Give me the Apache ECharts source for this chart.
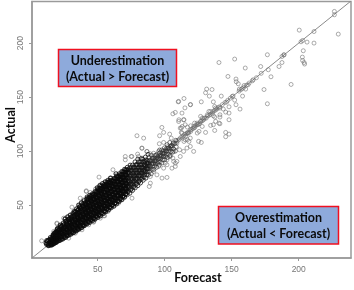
<!DOCTYPE html>
<html><head><meta charset="utf-8">
<style>html,body{margin:0;padding:0;background:#fff}#c{width:354px;height:290px}</style>
<script src="https://cdn.jsdelivr.net/npm/echarts@6/dist/echarts.min.js"></script>
</head><body><div id="c"></div>
<script>
const xTicks=[50,100,150,200];
const yTicks=[50,100,150,200];
const lineEnds=[[1,1],[239,239]];
const farPoints=[[226.6,229.3],[226.6,226.2],[200.4,212],[211.4,210.7],[229.5,208.3],[202.9,202.4],[201.7,201.2],[206.2,200.9],[211.4,200],[203.4,192.9],[176.6,189.2],[189,189.2],[187.5,187.6],[152.2,185.2],[202.7,187],[202.9,183.9],[204,182],[204.4,180.6],[140.5,182],[187.5,182],[171.6,178.3],[185.3,178.3],[160.1,176.9],[177.3,175.3],[179.3,168.8],[147.2,169.1],[168.4,167.9],[153.2,166.7],[153.4,164.2],[165.4,165.1],[154.9,162.3],[194.3,161.7],[159.2,160.7],[162.2,161.4],[155.7,157.4],[157.9,158],[160.4,157.4],[131.3,157.4],[135.3,157],[130.5,154],[174.1,157],[133.3,150.9],[142.2,150.9],[158.1,150.9],[152.2,147.2],[136.3,145.6],[127.3,145.6],[114.4,148.7],[110.1,145.6],[119.3,143.1],[115.1,140],[153.2,142.9],[176.6,143.8],[156.2,138.9],[148,141],[146.2,145.4],[150.4,150.6]];
const midPoints=[[137.3,141.3],[138,139.8],[134.3,136.7],[133,136.7],[141.2,139.8],[143.7,138.9],[145.5,136.1],[148,135.2],[141.2,133.6],[141.2,131.5],[137.3,131.5],[148,129],[140.5,125.9],[141.2,125.3],[138,127.5],[137.3,119.1],[134.3,123.8],[136.3,124.4],[130.5,117.3],[145.5,117.3],[148,115.7],[145.5,113.3],[127.3,108],[116.9,110.5],[114.4,129],[110.6,129],[126.8,132.1],[128,130.5],[126.8,127.5],[122.3,125.9],[119.4,123.4],[116.9,122.2],[113.1,122.8],[112.4,121.3],[121.8,121.3],[125.6,118.2],[124.3,116.7],[119.4,118.2],[116.9,116.7],[112.4,117.3],[115.6,113.6],[118.1,108.9],[114.4,108.9],[128,122.8],[124.8,124.4],[131.8,133.6],[129.3,130.5],[136.3,132.7]];
const linePoints=[[189,189],[172,172],[166,166],[163,163],[161,161],[159,159],[157,157],[155.5,155.5],[151,151],[149,149],[147,147],[145,145],[143,143],[141,141],[140,140.5],[139,139],[137,137.5],[135.5,135],[134,134],[132,132.5],[131,130.5],[129,129],[127,127.5],[126,125.5],[124,124.5],[122.5,122],[121,121],[119,119.5],[118,117.5],[116,116],[115,115.5],[113,113],[111,111],[109,109],[138,138],[136,136.5],[133,133],[130,130.5],[128,128],[125,125],[123,123.5],[120,120],[117,117],[114,114],[112,112.5],[110,110]];
const edgePoints=[[8.2,16.9],[30.8,48.1],[51,75.9],[41.5,62.6],[37,56.4],[39.5,54.9],[24.6,37.9],[19.6,32.7],[55.2,40],[47,34.2],[57.7,44.1],[61.4,82.7],[70.6,95],[75,95],[83,102.7],[86.8,99.6],[98,75],[101.7,75.6],[88.5,67.2],[75.6,56.4],[65.6,51.8],[89.3,70.3],[108,88.8],[70.6,91.9],[64.4,78],[59.4,75],[54.4,68.8],[45.7,59.5],[91.8,98],[94.2,96.5],[96.7,93.5],[99.2,96.5],[101.7,91.9],[104.2,95],[106.7,90.4],[90.5,91.9],[93,88.8],[88,87.3],[85.5,90.4],[83,93.5],[80.5,95],[95.5,85.7],[99.2,84.2],[101.7,87.3],[105.4,84.2],[91.8,81.1],[94.2,78],[89.3,76.5],[86.8,79.6],[84.3,84.2]];
const fringePoints=[[79.3,114.2],[84.3,112],[97.9,121.9],[99.2,117.3],[96.2,114.2],[103.7,115.7],[99.2,108],[96,106.8],[104.9,112],[106.6,108],[102.4,104.3],[83,102.7],[75.5,95],[79.8,97.2],[86.7,99.7],[89.2,97.5],[95.4,99.7],[106.6,99.7],[111.1,101.2],[114.1,99.7],[116.6,102.8],[119.1,104.3],[121.6,99.7],[125.3,109],[115.3,110.5],[112.9,116.6],[117.8,116.6],[111.6,121.3],[115.3,124.4],[110.4,127.4],[114.1,129],[106.1,134.5],[107.9,135.8],[112.9,135.2],[110.4,146],[119.1,142.9],[121.6,122.8],[124.1,125.9],[109.1,107.4],[106.1,93.5],[109.1,90.4],[103.7,95],[100.4,88.9],[99.2,95],[111.6,95],[107.9,85.8],[119.1,112],[41.5,63.2],[44.5,61.7],[48.3,64.8],[52,68.8],[25.9,37.9],[19.6,33.3],[22.1,30.2],[17.2,25.6],[47,34.8],[54.5,40.1],[38.3,27.1],[33.3,24],[28.4,19.4],[39.5,30.8],[50.7,44.1],[55.7,47.2],[43.3,31.7],[52,37.9]];
const corePoints=[
[11.5,15],[12,13.5],[12.5,16.5],[13,14],[13.2,12.5],[13.5,17.5],[12,17],[14,13],[14.3,15.5],[14.5,18],[14.8,20],[15,14],[15.2,16.5],[15.4,12.8],[15.5,19],
[16,13.5],[16.2,15.8],[16.3,18],[16.5,20.5],[16.8,22.5],[17,14.5],[17.2,17],[17.3,19.2],[17.5,21.3],[17.7,24],[18,15],[18.2,17.4],[18.4,19.6],[18.5,22],[18.6,24.5],[19,16],[19.2,18.5],[19.4,20.8],[19.5,23],[19.7,25.5],[19.8,27.5],
[20,16.5],[20.6,19],[19.8,21.5],[20.4,24],[20.9,26.5],[20.2,28.5],[22,17.5],[22.7,20],[21.6,22.3],[22.3,25],[21.8,27.4],[22.5,29.8],[22.1,31.5],
[24,18.6],[24.6,21],[23.6,23.6],[24.3,26.2],[24.8,28.7],[23.8,31],[24.4,33.4],[26,20],[26.7,22.5],[25.5,25],[26.3,27.7],[25.8,30],[26.6,32.6],[26.1,35],[25.7,37],
[28,22],[28.6,24.4],[27.6,27],[28.3,29.5],[27.8,32],[28.7,34.3],[28.2,36.8],[27.7,39],[30,23],[30.7,25.6],[29.5,28.2],[30.3,30.8],[29.8,33.2],[30.6,35.8],[30.1,38.3],[29.6,40.7],
[32,24.5],[32.6,27],[31.5,29.6],[32.3,32.2],[31.8,34.6],[32.7,37.2],[32.2,39.7],[31.6,42.2],[32.4,44],[34,26],[34.7,28.6],[33.6,31.2],[34.4,33.8],[33.8,36.3],[34.6,38.9],[34.1,41.5],[33.6,44],[34.3,46.5],
[36,27.8],[36.6,30.3],[35.6,32.9],[36.3,35.4],[35.8,38],[36.7,40.5],[36.2,43],[35.6,45.7],[36.4,48.2],[35.9,50],[38,29],[38.7,31.7],[37.5,34.3],[38.3,36.8],[37.8,39.4],[38.6,42],[38.1,44.6],[37.6,47],[38.4,49.6],[37.9,52],
[40,31],[40.6,33.5],[39.6,36],[40.3,38.6],[39.8,41.2],[40.7,43.8],[40.2,46.3],[39.6,48.9],[40.4,51.4],[39.9,54],[42,32.5],[42.7,35],[41.5,37.6],[42.3,40.2],[41.8,42.8],[42.6,45.3],[42.1,47.9],[41.6,50.5],[42.4,53],[41.9,55.6],[42.2,57.5],
[44,34],[44.6,36.5],[43.6,39.2],[44.3,41.7],[43.8,44.3],[44.7,46.9],[44.2,49.4],[43.6,52],[44.4,54.6],[43.9,57],[44.1,59],[46,35.5],[46.7,38],[45.5,40.7],[46.3,43.3],[45.8,45.8],[46.6,48.4],[46.1,51],[45.6,53.6],[46.4,56],[45.9,58.7],[46.2,60.5],
[48,37],[48.6,39.6],[47.6,42.2],[48.3,44.7],[47.8,47.3],[48.7,49.9],[48.2,52.5],[47.6,55],[48.4,57.6],[47.9,60.2],[48.1,62.4],[50,38.6],[50.7,41.2],[49.5,43.7],[50.3,46.3],[49.8,48.9],[50.6,51.4],[50.1,54],[49.6,56.6],[50.4,59.2],[49.9,61.7],[50.2,64],[49.7,66],
[52,40],[52.6,42.7],[51.6,45.2],[52.3,47.8],[51.8,50.4],[52.7,53],[52.2,55.5],[51.6,58.1],[52.4,60.7],[51.9,63.2],[52.1,65.6],[51.7,68],[54,42],[54.7,44.3],[53.5,46.9],[54.3,49.4],[53.8,52],[54.6,54.6],[54.1,57.1],[53.6,59.7],[54.4,62.3],[53.9,64.8],[54.2,67],[53.7,70],
[56,44],[56.6,46.5],[55.6,49],[56.3,51.6],[55.8,54.2],[56.7,56.8],[56.2,59.3],[55.6,61.9],[56.4,64.5],[55.9,67],[56.1,69],[55.7,71.5],[58,45.5],[58.7,48],[57.5,50.6],[58.3,53.2],[57.8,55.7],[58.6,58.3],[58.1,60.9],[57.6,63.5],[58.4,66],[57.9,68.6],[58.2,71],[57.7,73],
[60,47.5],[60.6,50],[59.6,52.6],[60.3,55.2],[59.8,57.7],[60.7,60.3],[60.2,62.9],[59.6,65.5],[60.4,68],[59.9,70.6],[60.1,73],[59.7,75],[62,49],[62.7,51.6],[61.5,54.2],[62.3,56.8],[61.8,59.3],[62.6,61.9],[62.1,64.5],[61.6,67],[62.4,69.6],[61.9,72.2],[62.2,74.6],
[64,51],[64.6,53.6],[63.6,56.1],[64.3,58.7],[63.8,61.3],[64.7,63.9],[64.2,66.4],[63.6,69],[64.4,71.6],[63.9,74.2],[64.1,76.5],[63.7,79],[66,53.5],[66.7,56],[65.5,58.6],[66.3,61.2],[65.8,63.8],[66.6,66.3],[66.1,68.9],[65.6,71.5],[66.4,74],[65.9,76.6],[66.2,79],
[68,55],[68.6,57.6],[67.6,60.2],[68.3,62.8],[67.8,65.3],[68.7,67.9],[68.2,70.5],[67.6,73],[68.4,75.6],[67.9,78.2],[68.1,81],[70,57.4],[70.7,60],[69.5,62.6],[70.3,65.2],[69.8,67.7],[70.6,70.3],[70.1,72.9],[69.6,75.5],[70.4,78],[69.9,80.6],[70.2,83],
[72,59.5],[72.6,62],[71.6,64.6],[72.3,67.2],[71.8,69.8],[72.7,72.3],[72.2,74.9],[71.6,77.5],[72.4,80],[71.9,82.6],[72.1,85],[74,61],[74.7,64],[73.5,66.6],[74.3,69.2],[73.8,71.8],[74.6,74.3],[74.1,76.9],[73.6,79.5],[74.4,82],[73.9,84.6],[74.2,87],
[76,63.5],[76.6,66.5],[75.6,69],[76.3,71.6],[75.8,74.2],[76.7,76.7],[76.2,79.3],[75.6,81.9],[76.4,84.5],[75.9,87],[78,66],[78.7,69],[77.5,72],[78.3,74.4],[77.8,77],[78.6,79.6],[78.1,82.1],[77.6,84.7],[78.4,87.3],[77.9,90],
[80,68],[80.6,71.5],[79.6,74.5],[80.3,77],[79.8,79.6],[80.7,82.2],[80.2,84.8],[79.6,87.3],[80.4,90],[79.9,92.5],[82,70.5],[82.7,74],[81.5,77],[82.3,79.5],[81.8,82],[82.6,84.6],[82.1,87.2],[81.6,89.8],[82.4,93],
[84,73],[84.6,76],[83.6,79.5],[84.3,82],[83.8,84.6],[84.7,87.2],[84.2,89.7],[83.6,92.5],[86,75],[86.7,78],[85.5,81],[86.3,84],[85.8,86.6],[86.6,89.2],[86.1,91.8],[85.6,94.5],
[88,78],[88.6,81],[87.6,83.5],[88.3,86],[87.8,88.7],[88.7,91.3],[88.2,94],[87.6,97],[90,79],[90.7,83],[89.5,85.5],[90.3,88],[89.8,90.7],[90.6,93.4],[90.1,96],
[92,83],[92.6,86],[91.6,88.5],[92.3,91],[91.8,93.5],[92.7,96],[94,85],[94.7,88.5],[93.5,91],[94.3,94],[93.8,96.5],[96,87],[96.6,90],[95.6,93],[96.3,95.5],[95.8,98],[96.2,101],
[98,89],[98.7,92],[97.5,95],[98.3,98],[97.8,101],[100,92],[100.6,95],[99.6,98],[100.3,100.5],[99.8,103],[102,94],[102.7,97],[101.5,100],[102.3,102.5],[101.8,106],
[104,96],[104.6,99.5],[103.6,102],[104.3,104.5],[103.8,108],[106,99],[106.7,102],[105.5,105],[106.3,107],[108,100],[108.6,104],[107.6,107],[108.3,110]
];
const innerForecast=[15,17,19,21,23,25,27,29,31,33,35,37,39,41,43,45,47,49,51,53,55,57,59,61,63,65,67,69,71,73,75,77,79,81,83,85,87,89,91,93,95,97,99,101,103,105];
const innerActual=[
[13.5,15,17],[14,16,18,20,22],[15.5,17.5,19.5,21.5,23.5,25],[17,19,21,23,25,27],[18.5,21,23,25.5,27.5,30],[20,22.5,25,27,29.5,32],[21.5,24,26,28.5,31,33.5,35.5],[23,25.5,28,30.5,33,35,37.5],[24.5,27,29.5,32,34.5,37,39.5],[26,28.5,31,33.5,36,38.5,41,43],[27.5,30,32.5,35,37.5,40,42.5,45],[29,31.5,34,36.5,39,41.5,44,46.5,48.5],[31,33.5,36,38.5,41,43.5,46,48.5,51],[32.5,35,37.5,40,42.5,45,47.5,50,52.5],[34.5,37,39.5,42,44.5,47,49.5,52,54.5,56.5],[36,38.5,41,43.5,46,48.5,51,53.5,56,58],[37.5,40,42.5,45,47.5,50,52.5,55,57.5,60],[39.5,42,44.5,47,49.5,52,54.5,57,59.5,62],[41,43.5,46,48.5,51,53.5,56,58.5,61,63.5,65.5],[43,45.5,48,50.5,53,55.5,58,60.5,63,65.5,67.5],[44.5,47,49.5,52,54.5,57,59.5,62,64.5,67,69],[46.5,49,51.5,54,56.5,59,61.5,64,66.5,69,71],[48,50.5,53,55.5,58,60.5,63,65.5,68,70.5,72.5],[50,52.5,55,57.5,60,62.5,65,67.5,70,72.5],[52,54.5,57,59.5,62,64.5,67,69.5,72,74.5],[54,56.5,59,61.5,64,66.5,69,71.5,74,76],[56,58.5,61,63.5,66,68.5,71,73.5,76,78],[58.5,61,63.5,66,68.5,71,73.5,76,78.5,80.5],[60.5,63,65.5,68,70.5,73,75.5,78,80.5,82.5],[63,65.5,68,70.5,73,75.5,78,80.5,83],[65,67.5,70,72.5,75,77.5,80,82.5,85],[67.5,70,72.5,75,77.5,80,82.5,85],[70,72.5,75,77.5,80,82.5,85,87.5],[72.5,75,77.5,80,82.5,85,87.5],[75,77.5,80,82.5,85,87.5,90],[78,80.5,83,85.5,88,90.5],[81,83.5,86,88.5,91],[84,86.5,89,91.5],[86,88.5,91,93.5],[88,90.5,93],[90,92.5,95],[93,96,99],[95,98,100],[97,100,102],[100,103],[103,105]
];
const axisLabels={x:'Forecast',y:'Actual'};
const boxLabels=['Underestimation\n(Actual > Forecast)','Overestimation\n(Actual < Forecast)'];
const innerPoints=innerForecast.flatMap((x,i)=>innerActual[i].map(y=>[x,y]));
const densePoints=corePoints.concat(innerPoints);
const darkBand=densePoints.filter(p=>p[0]<72);
const midBand=densePoints.filter(p=>p[0]>=72&&p[0]<88);
const paleBand=densePoints.filter(p=>p[0]>=88);
const chart=echarts.init(document.getElementById('c'),null,{renderer:'canvas'});
const gray='#9a9a9a';
const boldFont='"Lato", "Open Sans", sans-serif';
function box(x,y,w,h,t){return {type:'group',x,y,silent:true,z:20,children:[
 {type:'rect',shape:{x:0,y:0,width:w,height:h},style:{fill:'#8eaadb',stroke:'#f01020',lineWidth:1.5}},
 {type:'text',x:w/2,y:h/2+0.5,style:{text:t,fill:'#0b0b0b',font:'bold 12.5px '+boldFont,align:'center',verticalAlign:'middle',lineHeight:16}}
]};}
function dots(d,color,width){return {type:'scatter',data:d,symbol:'circle',symbolSize:4,silent:true,z:2,
 itemStyle:{color:'rgba(0,0,0,0)',borderColor:color,borderWidth:width}};}
chart.setOption({
 animation:false,
 grid:{left:32,top:1.5,right:3,bottom:32,show:true,borderColor:gray,borderWidth:1.5,backgroundColor:'#fff'},
 xAxis:{type:'value',min:1,max:239,splitLine:{show:false},axisLine:{onZero:false,lineStyle:{color:gray,width:1.5}},
  axisTick:{show:true,length:3,customValues:xTicks,lineStyle:{color:gray,width:1}},
  axisLabel:{customValues:xTicks,fontSize:8.5,color:'#777',margin:7,fontFamily:'"Liberation Sans",Arial,sans-serif'}},
 yAxis:{type:'value',min:1,max:238.5,splitLine:{show:false},axisLine:{onZero:false,lineStyle:{color:gray,width:1.5}},
  axisTick:{show:true,length:3,customValues:yTicks,lineStyle:{color:gray,width:1}},
  axisLabel:{customValues:yTicks,fontSize:8.5,color:'#777',margin:7,rotate:90,fontFamily:'"Liberation Sans",Arial,sans-serif'}},
 series:[
  {type:'line',data:lineEnds,symbol:'none',silent:true,lineStyle:{color:'#8a8a8a',width:1},z:1},
  dots(farPoints,'#6a6a6a',0.7),dots(midPoints,'#6a6a6a',0.7),dots(linePoints,'#6a6a6a',0.7),dots(edgePoints,'#6a6a6a',0.7),dots(fringePoints,'#6a6a6a',0.7),
  dots(paleBand,'#333',0.8),dots(midBand,'#161616',1),dots(darkBand,'#0a0a0a',1.2)
 ],
 graphic:[
  box(58.5,49.5,118,37,boxLabels[0]),
  box(218.5,206.5,120,37.5,boxLabels[1]),
  {type:'text',x:198,y:278,silent:true,style:{text:axisLabels.x,fill:'#0b0b0b',font:'bold 12.5px '+boldFont,align:'center',verticalAlign:'middle'}},
  {type:'text',x:10.5,y:125,rotation:Math.PI/2,silent:true,style:{text:axisLabels.y,fill:'#0b0b0b',font:'bold 12.5px '+boldFont,align:'center',verticalAlign:'middle'}}
 ]
});
</script></body></html>
